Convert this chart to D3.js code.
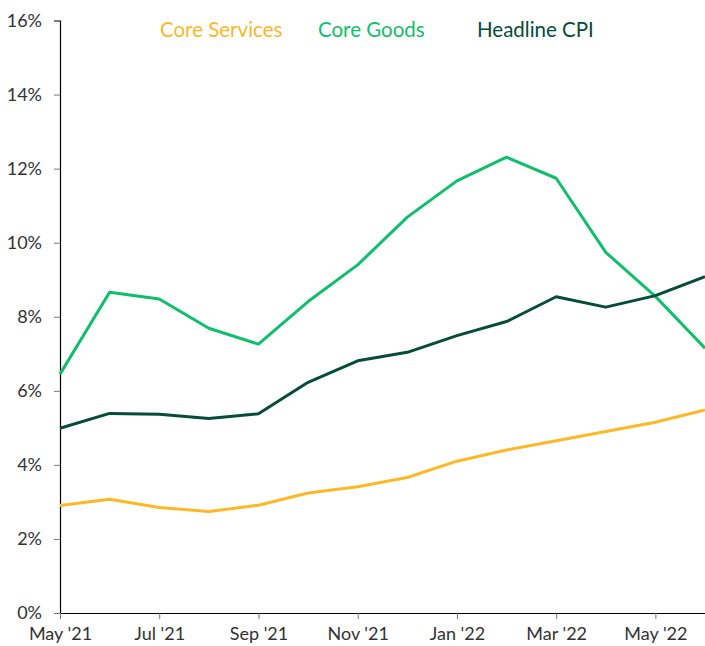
<!DOCTYPE html>
<html>
<head>
<meta charset="utf-8">
<script src="https://cdn.jsdelivr.net/npm/d3@7"></script>
<style>
  html, body { margin: 0; padding: 0; background: #fff; }
  svg { display: block; }
  text { font-family: Lato, "Open Sans", sans-serif; }
</style>
</head>
<body>
<svg id="chart" width="705" height="646"></svg>
<script>
const months = ["May '21","Jun '21","Jul '21","Aug '21","Sep '21","Oct '21","Nov '21","Dec '21","Jan '22","Feb '22","Mar '22","Apr '22","May '22","Jun '22"];
const coreServices = [2.90, 3.07, 2.85, 2.74, 2.91, 3.24, 3.41, 3.66, 4.10, 4.40, 4.65, 4.90, 5.15, 5.48];
const coreGoods    = [6.45, 8.66, 8.48, 7.69, 7.26, 8.41, 9.40, 10.69, 11.67, 12.31, 11.74, 9.74, 8.55, 7.15];
const headlineCPI  = [4.99, 5.39, 5.37, 5.25, 5.38, 6.23, 6.81, 7.04, 7.49, 7.87, 8.54, 8.26, 8.57, 9.08];
const yTicks = [0, 2, 4, 6, 8, 10, 12, 14, 16];
const xTickMonths = ["May '21","Jul '21","Sep '21","Nov '21","Jan '22","Mar '22","May '22"];

const seriesList = [
  { name: "Core Services", values: coreServices, color: "#FDB827" },
  { name: "Core Goods", values: coreGoods, color: "#10BF6B" },
  { name: "Headline CPI", values: headlineCPI, color: "#064C38" }
];

const svg = d3.select("#chart");
const x = d3.scalePoint().domain(months).range([60, 705]);
const y = d3.scaleLinear().domain([0, 16]).range([613, 20.5]);

// Y axis
const yAxis = svg.append("g")
  .attr("transform", "translate(60,0)")
  .call(d3.axisLeft(y).tickValues(yTicks).tickFormat(d => d + "%").tickSize(6).tickPadding(12));
yAxis.select(".domain").attr("stroke", "#000").attr("stroke-width", 1.2);
yAxis.selectAll(".tick line").attr("stroke", "#777");
yAxis.selectAll(".tick text").attr("fill", "#333").style("font-size", "18px");

// X axis
const xAxis = svg.append("g")
  .attr("transform", "translate(0,613)")
  .call(d3.axisBottom(x).tickValues(xTickMonths).tickSize(6).tickPadding(8).tickSizeOuter(0));
xAxis.select(".domain").attr("stroke", "#000").attr("stroke-width", 1.2);
xAxis.selectAll(".tick line").attr("stroke", "#777");
xAxis.selectAll(".tick text").attr("fill", "#333").style("font-size", "18px");

// Lines
const line = d3.line().x((d, i) => x(months[i])).y(d => y(d));
seriesList.forEach(s => {
  svg.append("path")
    .datum(s.values)
    .attr("fill", "none")
    .attr("stroke", s.color)
    .attr("stroke-width", 3)
    .attr("stroke-linejoin", "round")
    .attr("d", line);
});

// Legend
const legendX = [160, 318, 477];
seriesList.forEach((s, i) => {
  svg.append("text")
    .attr("x", legendX[i])
    .attr("y", 37)
    .attr("fill", s.color)
    .style("font-size", "20.5px")
    .text(s.name);
});
</script>
</body>
</html>
